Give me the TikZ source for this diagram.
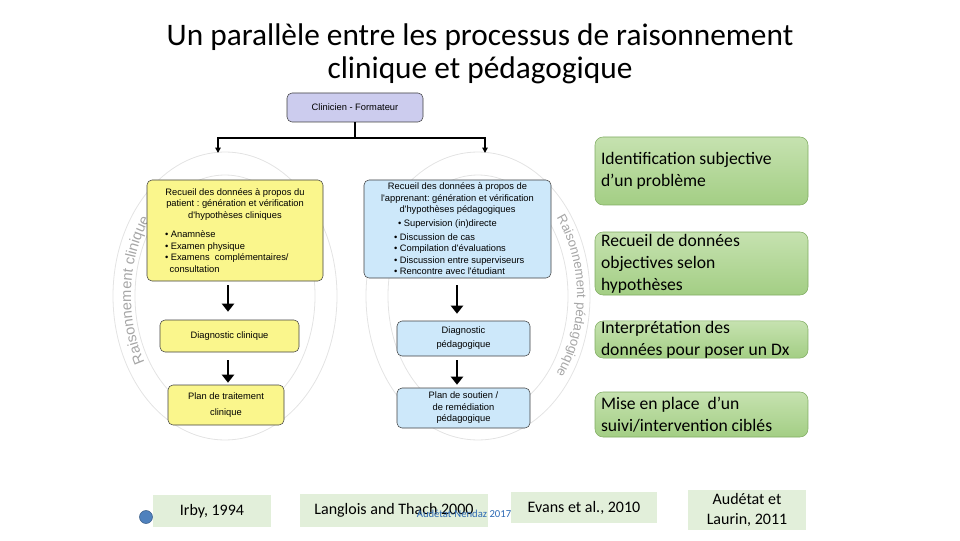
\documentclass[tikz,border=0pt]{standalone}
\usepackage{fontspec}
\setmainfont{Carlito}
\newfontfamily\arialf{Liberation Sans}
\usetikzlibrary{positioning, arrows.meta, decorations.text}
\frenchspacing
\newdimen\pxu \pxu=0.75pt
\definecolor{lav}{RGB}{204,204,238}
\definecolor{yel}{RGB}{250,246,140}
\definecolor{blu}{RGB}{205,232,250}
\definecolor{grntop}{RGB}{198,226,176}
\definecolor{grnbot}{RGB}{163,206,132}
\definecolor{grnd}{RGB}{128,172,98}
\definecolor{refc}{RGB}{226,239,218}
\definecolor{dot}{RGB}{79,129,189}
\definecolor{nendaz}{RGB}{45,105,180}
\tikzstyle{box}=[draw=black!75, rounded corners=5\pxu, align=center, inner sep=2\pxu,
                 font=\arialf\fontsize{7}{8.6}\selectfont]
\tikzstyle{yb}=[box, fill=yel]
\tikzstyle{bb}=[box, fill=blu]
\tikzstyle{gb}=[draw=grnd, rounded corners=8\pxu, top color=grntop, bottom color=grnbot,
                align=flush left, text width=201\pxu, inner xsep=6\pxu, inner ysep=0pt,
                font=\fontsize{13.2}{16.5}\selectfont]
\tikzstyle{cite}=[fill=refc, align=center, inner sep=0pt, font=\fontsize{12}{14.5}\selectfont]
\tikzstyle{ring}=[draw=black!11, line width=0.6pt]
\tikzstyle{ar}=[-{Triangle[length=6pt, width=9pt]}, line width=2.2pt]
\tikzstyle{tar}=[-{Triangle[length=4pt, width=4pt]}, line width=1.4pt]

\begin{document}
\begin{tikzpicture}[x=0.75pt, y=0.75pt]
    \useasboundingbox (0,0) rectangle (960,540);
    % background rings
    \draw[ring] (225,244) ellipse [x radius=112, y radius=144];
    \draw[ring] (225,244) ellipse [x radius=90, y radius=121];
    \draw[ring] (478,244) ellipse [x radius=112, y radius=144];
    \draw[ring] (478,244) ellipse [x radius=90, y radius=121];
    \path[decorate, decoration={text along path, text align=center,
        text={|\arialf\fontsize{11}{11}\selectfont\color{black!35}|Raisonnement clinique}}]
        (225,244) ++(218:94 and 128) arc[start angle=218, end angle=136, x radius=94, y radius=128];
    \path[decorate, decoration={text along path, text align=center,
        text={|\arialf\fontsize{9.8}{11}\selectfont\color{black!35}|Raisonnement pédagogique}}]
        (478,244) ++(40:99 and 128) arc[start angle=40, end angle=-40, x radius=99, y radius=128];
    % title
    \node[font=\fontsize{23.5}{25}\selectfont, align=center] (title) at (480,486.5)
        {Un parallèle entre les processus de raisonnement\\clinique et pédagogique};
    % clinical column
    \node[box, fill=lav, minimum width=136\pxu, minimum height=29\pxu] (clin) at (355,432.5)
        {Clinicien - Formateur};
    \node[yb, align=flush left, text width=172\pxu, minimum height=101\pxu] (recp) at (235,309.5)
        {{\centering Recueil des données à propos du\\patient : génération et vérification\\
         d'hypothèses cliniques\par}\vspace{6pt}
         \hspace*{12pt}• Anamnèse\\\hspace*{12pt}• Examen physique\\
         \hspace*{12pt}• Examens\ \ complémentaires/\\\hspace*{15.5pt}consultation};
    \node[yb, minimum width=139\pxu, minimum height=32\pxu] (diag) at (229.5,204)
        {Diagnostic clinique};
    \node[yb, minimum width=116\pxu, minimum height=40\pxu] (plan) at (226,135)
        {Plan de traitement\\[4pt]clinique};
    % pedagogical column
    \node[bb, align=flush left, text width=183\pxu, minimum height=98\pxu] (reca) at (457.5,311)
        {{\centering Recueil des données à propos de\\l'apprenant: génération et vérification\\
         d'hypothèses pédagogiques\par}\vspace{2pt}
         \hspace*{24pt}• Supervision (in)directe\\[1.5pt]
         \hspace*{21pt}• Discussion de cas\\\hspace*{21pt}• Compilation d'évaluations\\
         \hspace*{21pt}• Discussion entre superviseurs\\\hspace*{21pt}• Rencontre avec l'étudiant};
    \node[bb, minimum width=133\pxu, minimum height=35\pxu] (diagp) at (463.5,201.5)
        {Diagnostic\\[2pt]pédagogique};
    \node[bb, minimum width=133\pxu, minimum height=40\pxu] (planp) at (463.5,132)
        {Plan de soutien /\\de remédiation\\pédagogique};
    % steps
    \node[gb, minimum height=68\pxu] (ident) at (701.5,369)
        {Identification subjective\\d’un problème};
    \node[gb, minimum height=63\pxu] (recd) at (701.5,276.5)
        {Recueil de données\\objectives selon\\hypothèses};
    \node[gb, minimum height=35\pxu] (interp) at (701.5,200.5)
        {Interprétation des\\données pour poser un Dx};
    \node[gb, minimum height=45\pxu] (suivi) at (701.5,125.5)
        {Mise en place\ \ d’un\\suivi/intervention ciblés};
    % references
    \node[circle, fill=dot, draw=dot!70!black, minimum size=13\pxu, inner sep=0pt] (pt) at (146,23) {};
    \node[cite, minimum width=118\pxu, minimum height=32\pxu] (irby) at (212,29) {Irby, 1994};
    \node[cite, minimum width=188\pxu, minimum height=33\pxu] (lang) at (394,29.5)
        {Langlois and Thach 2000};
    \node[cite, minimum width=146\pxu, minimum height=31\pxu] (evans) at (584,32.5) {Evans et al., 2010};
    \node[cite, minimum width=118\pxu, minimum height=40\pxu] (aud) at (747,30) {Audétat et\\Laurin, 2011};
    \node[font=\fontsize{8}{8}\selectfont, text=nendaz, inner sep=0pt] (src) at (464,26) {Audétat-Nendaz 2017};
    % connectors
    \coordinate (lt) at (218,387);
    \coordinate (rt) at (485,387);
    \draw[line width=2pt] (clin.south) -- ++(0,-16) coordinate (mid);
    \draw[tar] (mid) -| (lt);
    \draw[tar] (mid) -| (rt);
    \draw[ar, shorten <=4\pxu, shorten >=8\pxu] (recp.south -| 228,0) -- (diag.north -| 228,0);
    \draw[ar, shorten <=8\pxu, shorten >=2\pxu] (diag.south -| 228,0) -- (plan.north -| 228,0);
    \draw[ar, shorten <=7\pxu, shorten >=7\pxu] (reca.south -| 457,0) -- (diagp.north -| 457,0);
    \draw[ar, shorten <=4\pxu, shorten >=3\pxu] (diagp.south -| 457,0) -- (planp.north -| 457,0);
  \end{tikzpicture}
\end{document}
